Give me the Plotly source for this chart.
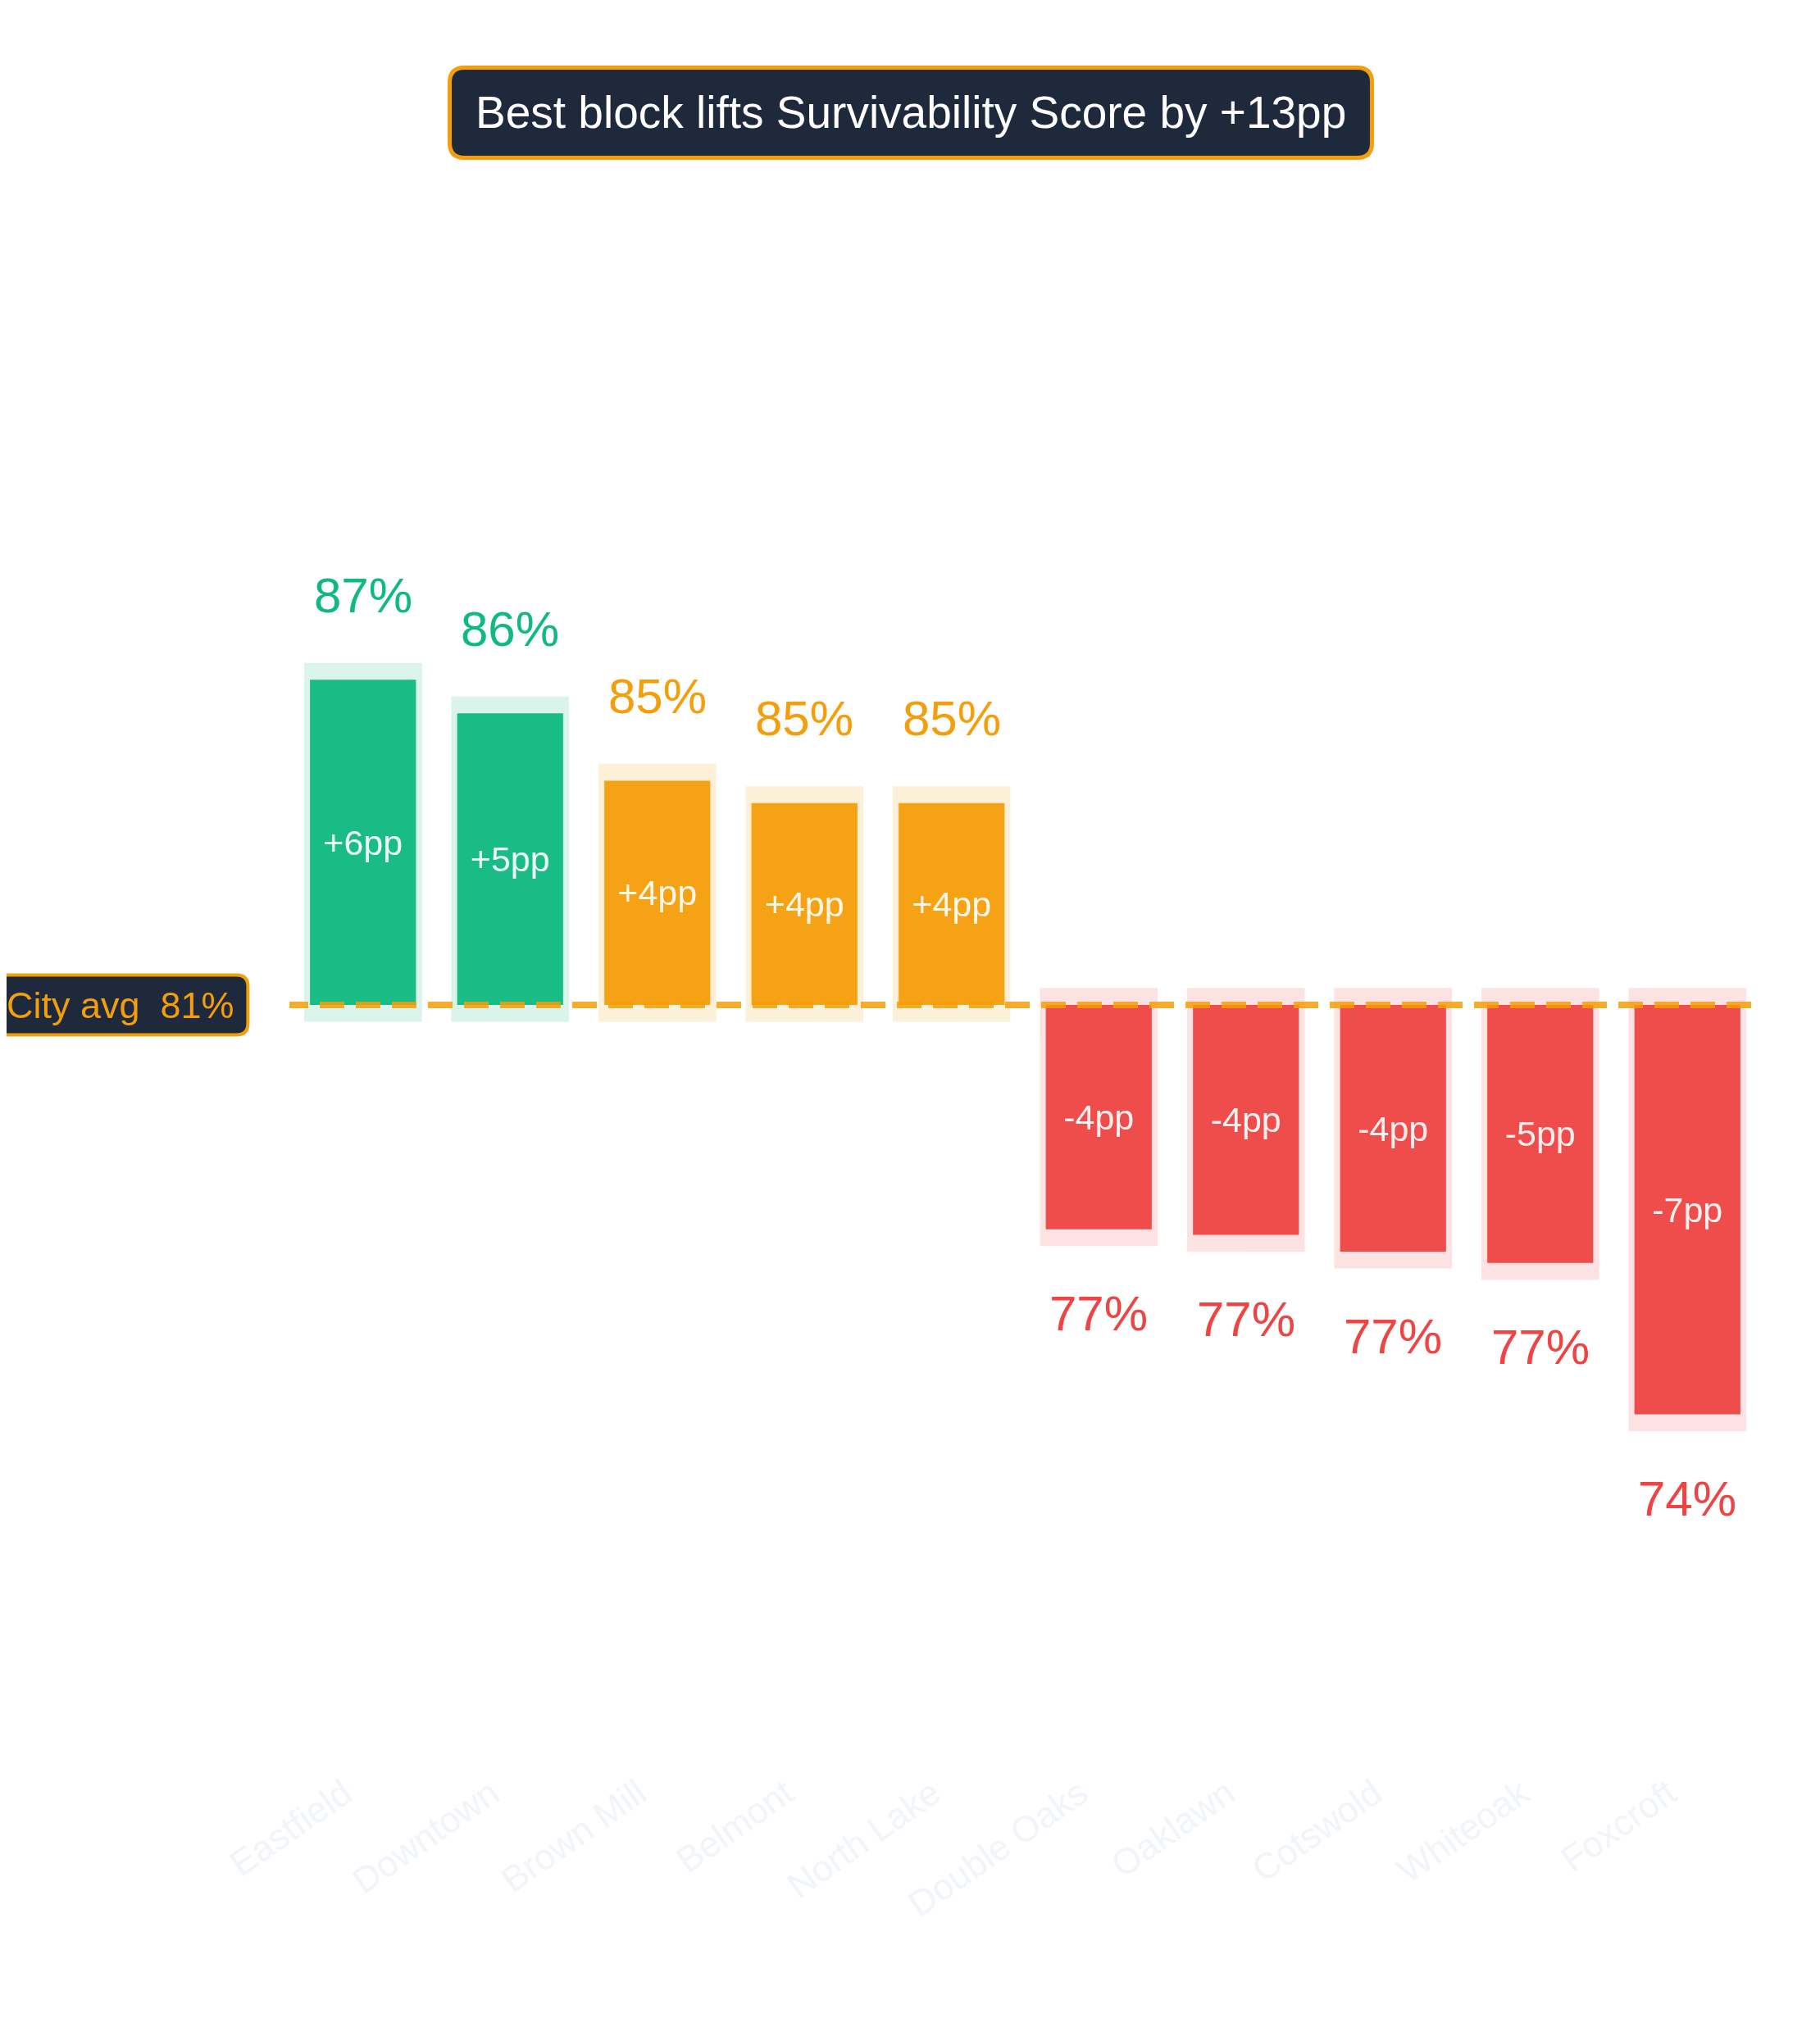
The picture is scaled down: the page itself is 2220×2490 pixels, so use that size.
"""Neighbourhood survivability scores against the city average."""

import plotly.graph_objects as go

# data
neighbourhoods = [
    "Eastfield", "Downtown", "Brown Mill", "Belmont", "North Lake",
    "Double Oaks", "Oaklawn", "Cotswold", "Whiteoak", "Foxcroft",
]
scores = [87.0, 86.4, 85.2, 84.8, 84.8, 77.2, 77.1, 76.8, 76.6, 73.9]
city_avg = 81.2

GREEN = "#10b981"
AMBER = "#f59e0b"
RED = "#ef4444"
NAVY = "#1e293b"
FONT = "Liberation Sans, Arial, Helvetica, sans-serif"

deltas = [s - city_avg for s in scores]
colors = [GREEN if d >= 5 else AMBER if d > 0 else RED for d in deltas]
pad = 0.3  # halo overhang in pp
signs = [1 if d > 0 else -1 for d in deltas]


def rounded_box(w, h, r):
    """SVG path of a rounded rectangle centred on the anchor (pixels)."""
    x, y = w / 2, h / 2
    return (
        f"M {-x + r},{-y} L {x - r},{-y} Q {x},{-y} {x},{-y + r} "
        f"L {x},{y - r} Q {x},{y} {x - r},{y} L {-x + r},{y} "
        f"Q {-x},{y} {-x},{y - r} L {-x},{-y + r} Q {-x},{-y} {-x + r},{-y} Z"
    )


fig = go.Figure()

# soft halo behind each bar
fig.add_trace(
    go.Bar(
        x=neighbourhoods,
        y=[d + 2 * pad * s for d, s in zip(deltas, signs)],
        base=[city_avg - pad * s for s in signs],
        width=0.8,
        marker=dict(color=colors, line=dict(width=0)),
        opacity=0.15,
        hoverinfo="skip",
        showlegend=False,
    )
)

# main bars, base at the city average
fig.add_trace(
    go.Bar(
        x=neighbourhoods,
        y=deltas,
        base=[city_avg] * len(deltas),
        width=0.72,
        marker=dict(color=colors, line=dict(width=0)),
        opacity=0.95,
        text=[f"{d:+.0f}pp" for d in deltas],
        textposition="inside",
        insidetextanchor="middle",
        textangle=0,
        insidetextfont=dict(family=FONT, size=43, color="rgba(255,255,255,0.92)"),
        hovertemplate="%{x}<br>%{customdata:.1f}%<extra></extra>",
        customdata=scores,
        showlegend=False,
    )
)

# score labels above / below bars
for name, s, sg, c in zip(neighbourhoods, scores, signs, colors):
    fig.add_annotation(
        x=name,
        y=s,
        text=f"{s:.0f}%",
        showarrow=False,
        yanchor="middle",
        yshift=103 * sg,
        font=dict(family=FONT, size=60, color=c),
    )

# city average reference line
fig.add_shape(
    type="line",
    xref="x",
    yref="y",
    x0=-2.5,
    x1=9.6,
    y0=city_avg,
    y1=city_avg,
    line=dict(color=AMBER, width=8, dash="30px,14px"),
    opacity=0.85,
    layer="above",
)

# city average badge
fig.add_shape(
    type="path",
    xref="paper",
    yref="y",
    xsizemode="pixel",
    ysizemode="pixel",
    xanchor=-0.1215,
    yanchor=city_avg,
    path=rounded_box(335, 73, 14),
    fillcolor=NAVY,
    line=dict(color=AMBER, width=4),
    layer="above",
)
fig.add_annotation(
    xref="paper",
    yref="y",
    x=-0.0362,
    y=city_avg,
    xanchor="right",
    yanchor="middle",
    text=f"City avg  {city_avg:.0f}%",
    showarrow=False,
    font=dict(family=FONT, size=45, color=AMBER),
)

# headline badge
best_lift = max(scores) - min(scores)
fig.add_shape(
    type="path",
    xref="paper",
    yref="paper",
    xsizemode="pixel",
    ysizemode="pixel",
    xanchor=0.4223,
    yanchor=1.0636,
    path=rounded_box(1125, 110, 18),
    fillcolor=NAVY,
    line=dict(color=AMBER, width=5),
    layer="above",
)
fig.add_annotation(
    xref="paper",
    yref="paper",
    x=0.4223,
    y=1.0636,
    xanchor="center",
    yanchor="middle",
    text=f"Best block lifts Survivability Score by +{best_lift:.0f}pp",
    showarrow=False,
    font=dict(family=FONT, size=55, color="white"),
)

fig.update_xaxes(
    tickangle=-35,
    tickfont=dict(family=FONT, size=44, color="#f1f5f9"),
    ticklabelshift=-23,
    showgrid=False,
    zeroline=False,
    showline=False,
    range=[-0.5, 9.5],
)
fig.update_yaxes(
    range=[67.65, 95.35],
    visible=False,
    showgrid=False,
    zeroline=False,
)

fig.update_layout(
    width=2220,
    height=2490,
    barmode="overlay",
    plot_bgcolor="white",
    paper_bgcolor="white",
    font=dict(family=FONT),
    margin=dict(l=345, r=80, t=250, b=345),
    uniformtext=dict(minsize=10, mode="show"),
)

fig.write_html("out.html")
